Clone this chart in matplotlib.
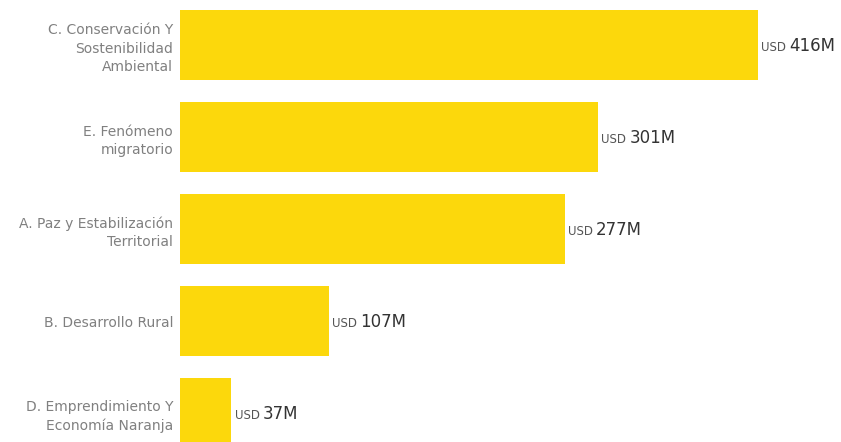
import matplotlib
matplotlib.use("Agg")
import matplotlib.pyplot as plt

categories = [
    "C. Conservación Y\nSostenibilidad\nAmbiental",
    "E. Fenómeno\nmigratorio",
    "A. Paz y Estabilización\nTerritorial",
    "B. Desarrollo Rural",
    "D. Emprendimiento Y\nEconomía Naranja",
]
values = [416, 301, 277, 107, 37]
value_labels = ["416M", "301M", "277M", "107M", "37M"]

BAR_COLOR = "#FCD80C"

fig = plt.figure(figsize=(8.41, 4.42), dpi=100)
ax = fig.add_axes([180 / 841, -0.0385, 661 / 841, 1.0407])

y = list(range(len(values)))
ax.barh(y, values, height=0.76, color=BAR_COLOR)
ax.set_ylim(4.5, -0.5)
ax.set_xlim(0, 476)

ax.set_yticks(y)
ax.set_yticklabels(categories, fontsize=10, color="#808080",
                   linespacing=1.4, multialignment="right")
ax.tick_params(axis="y", length=0, pad=5)
ax.set_xticks([])
for s in ax.spines.values():
    s.set_visible(False)

for yi, v, lab in zip(y, values, value_labels):
    t = ax.annotate("USD", xy=(v, yi + 0.065), xytext=(2.5, 0),
                    textcoords="offset points", fontsize=8.5, color="#555555",
                    va="baseline", ha="left")
    ax.annotate(lab, xy=(1, yi + 0.065), xycoords=(t, "data"),
                xytext=(2, 0), textcoords="offset points",
                fontsize=12, color="#333333", va="baseline", ha="left")

fig.savefig("out.png", dpi=100)
